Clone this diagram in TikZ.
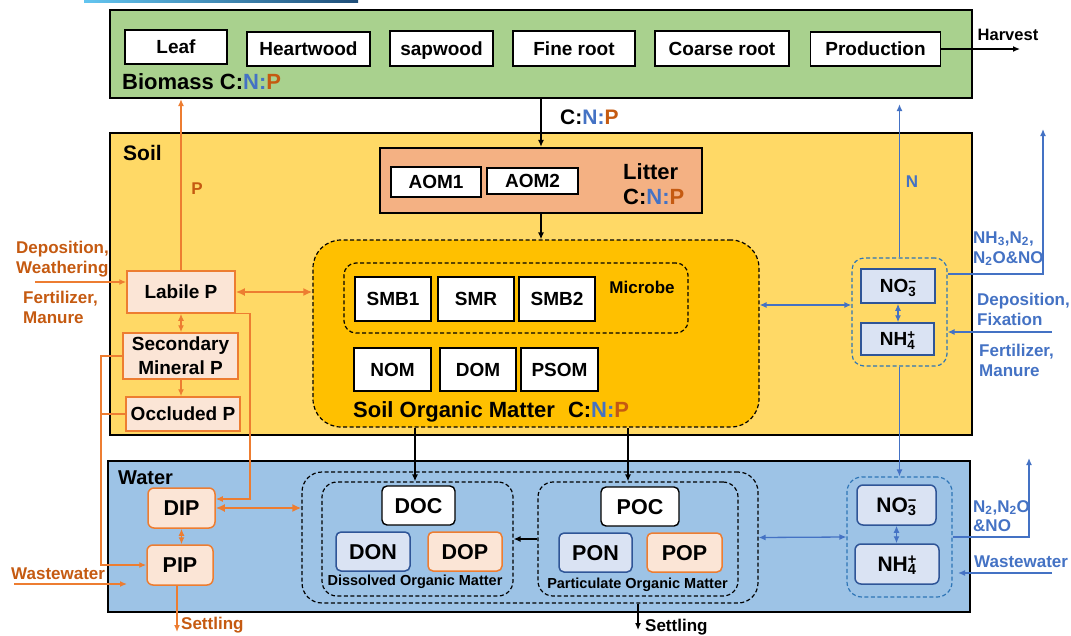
\documentclass[tikz,border=0pt]{standalone}
\usepackage{fontspec}
\setmainfont{Liberation Sans}
\usetikzlibrary{arrows.meta,calc}
\definecolor{bioG}{HTML}{A9D18E}
\definecolor{soilY}{HTML}{FFD966}
\definecolor{somO}{HTML}{FFC000}
\definecolor{litS}{HTML}{F4B183}
\definecolor{watB}{HTML}{9DC3E6}
\definecolor{pinkF}{HTML}{FBE5D6}
\definecolor{orL}{HTML}{ED7D31}
\definecolor{orT}{HTML}{C55A11}
\definecolor{blT}{HTML}{4472C4}
\definecolor{blF}{HTML}{DAE3F3}
\definecolor{blD}{HTML}{2F5597}
\definecolor{blM}{HTML}{2E75B6}
\definecolor{lnA}{HTML}{63C5F0}
\definecolor{lnB}{HTML}{1F4E79}
\newcommand{\fsz}[1]{\fontsize{#1}{#1}\selectfont\bfseries}
\newcommand{\CNP}{C:\textcolor{blT}{N:}\textcolor{orT}{P}}
\newcommand{\ionss}[2]{\rlap{\textsuperscript{#2}}\textsubscript{#1}}
\begin{document}
\begin{tikzpicture}[x=1pt,y=-1pt,
  big/.style={draw=black,line width=2.2pt,inner sep=0pt},
  T/.style={inner sep=0pt,font=\fsz{#1},text height={0.72*#1pt},text depth=0pt},
  wbox/.style={draw=black,fill=white,line width=1.4pt,T=19},
  pbox/.style={draw=orL,fill=pinkF,line width=1.5pt,T=19},
  nbox/.style={draw=blD,fill=blF,line width=1.5pt,T=19},
  dbox/.style={draw=black,dash pattern=on 4pt off 2.5pt,line width=1.2pt,inner sep=0pt},
  ndbox/.style={draw=blM,dash pattern=on 4pt off 2.5pt,line width=1.2pt,inner sep=0pt},
  arr/.style={-{Latex[length=7pt,width=6pt]},line width=1.3pt},
  darr/.style={{Latex[length=7pt,width=6pt]}-{Latex[length=7pt,width=6pt]},line width=1.3pt},
  tarr/.style={{Latex[length=9pt,width=8pt]}-{Latex[length=9pt,width=8pt]},line width=2.3pt},
]
\useasboundingbox (0,0) rectangle (1071,635);
\shade[left color=lnA,right color=lnB] (84,0) rectangle (358,2.5);

% main compartments
\node[big,fill=bioG,minimum width=862,minimum height=88] (bio) at (541,54) {};
\node[big,fill=soilY,minimum width=862,minimum height=302] (soil) at (541,284) {};
\node[big,fill=watB,minimum width=862,minimum height=151] (water) at (539,536.5) {};

% biomass
\node[wbox,minimum width=102,minimum height=34] (leaf) at (176,47) {Leaf};
\node[wbox,minimum width=123,minimum height=34] (heart) at (308.5,49) {Heartwood};
\node[wbox,minimum width=103,minimum height=35] (sap) at (441.5,48.5) {sapwood};
\node[wbox,minimum width=122,minimum height=35] (fine) at (574,48.5) {Fine root};
\node[wbox,minimum width=134,minimum height=35] (coarse) at (722,48.5) {Coarse root};
\node[wbox,minimum width=130,minimum height=34] (prod) at (875.5,49) {Production};
\node[T=22,anchor=west] (biolbl) at (122,82) {Biomass \CNP};
\coordinate (harv) at (1020,49);
\node[T=16.5] (harvlbl) at (1008,35) {Harvest};
\node[T=21,anchor=west] (cnp1) at (560,117) {\CNP};

% soil
\node[T=21,anchor=west] (soillbl) at (123,153) {Soil};
\node[big,fill=litS,minimum width=322,minimum height=65] (litter) at (541,180.5) {};
\node[wbox,minimum width=90,minimum height=30] (aom1) at (436,182) {AOM1};
\node[wbox,minimum width=91,minimum height=26] (aom2) at (532.5,181) {AOM2};
\node[T=22,anchor=west] (litlbl) at (623,172) {Litter};
\node[T=22,anchor=west] (litcnp) at (623,197) {\CNP};

\node[dbox,fill=somO,rounded corners=28,minimum width=446,minimum height=187] (som) at (536,333.5) {};
\node[dbox,rounded corners=12,minimum width=344,minimum height=70] (mic) at (516,298) {};
\node[wbox,minimum width=76,minimum height=44] (smb1) at (393,299) {SMB1};
\node[wbox,minimum width=76,minimum height=44] (smr) at (476,299) {SMR};
\node[wbox,minimum width=76,minimum height=44] (smb2) at (557,299) {SMB2};
\node[T=17] (miclbl) at (642,287) {Microbe};
\node[wbox,minimum width=77,minimum height=43] (nom) at (392.5,369.5) {NOM};
\node[wbox,minimum width=76,minimum height=43] (dom) at (478,369.5) {DOM};
\node[wbox,minimum width=77,minimum height=43] (psom) at (559.5,369.5) {PSOM};
\node[T=22,anchor=west] (somlbl) at (353,410) {Soil Organic Matter\hspace{7pt} \CNP};

% phosphorus pools
\node[pbox,minimum width=108,minimum height=42] (labile) at (181,292) {Labile P};
\node[draw=orL,fill=pinkF,line width=1.5pt,inner sep=0pt,minimum width=115,minimum height=46,align=center,font=\fontsize{19}{24}\selectfont\bfseries] (second) at (180.5,356) {Secondary\\Mineral P};
\node[pbox,minimum width=114,minimum height=34] (occl) at (183,414) {Occluded P};
\node[T=17,anchor=west,text=orT] (dep1) at (16,247) {Deposition,};
\node[T=17,anchor=west,text=orT] (dep2) at (16,267) {Weathering};
\node[T=17,anchor=west,text=orT] (fer1) at (23,297) {Fertilizer,};
\node[T=17,anchor=west,text=orT] (fer2) at (23,317) {Manure};
\node[T=17,text=orT] (plbl) at (197,188) {P};

% nitrogen (soil)
\node[ndbox,rounded corners=12,minimum width=95,minimum height=108] (nsoil) at (899.5,312) {};
\node[nbox,minimum width=74,minimum height=34] (no3s) at (898,286) {NO\ionss{3}{−}};
\node[nbox,minimum width=73,minimum height=32] (nh4s) at (897.5,339) {NH\ionss{4}{+}};
\node[T=17,text=blT] (nlbl) at (912,181) {N};
\node[T=17,anchor=west,text=blT] (nh3a) at (973,237) {NH\textsubscript{3},N\textsubscript{2},};
\node[T=17,anchor=west,text=blT] (nh3b) at (973,257) {N\textsubscript{2}O\&NO};
\node[T=17,anchor=west,text=blT] (depf1) at (977,299) {Deposition,};
\node[T=17,anchor=west,text=blT] (depf2) at (977,319) {Fixation};
\node[T=17,anchor=west,text=blT] (ferb1) at (979,350) {Fertilizer,};
\node[T=17,anchor=west,text=blT] (ferb2) at (979,370) {Manure};

% water
\node[T=20,anchor=west] (watlbl) at (118,477) {Water};
\node[pbox,T=21.5,rounded corners=6,minimum width=67,minimum height=40] (dip) at (181.5,508) {DIP};
\node[pbox,T=21.5,rounded corners=6,minimum width=66,minimum height=40] (pip) at (180,565) {PIP};
\node[dbox,rounded corners=20,minimum width=456,minimum height=131] (outer) at (530,537.5) {};
\node[dbox,rounded corners=15,minimum width=191,minimum height=114] (dombox) at (417.5,539) {};
\node[dbox,rounded corners=15,minimum width=200,minimum height=114] (pombox) at (638,539) {};
\node[wbox,T=21.5,rounded corners=5,minimum width=73,minimum height=39] (doc) at (418.5,505.5) {DOC};
\node[nbox,T=21.5,rounded corners=5,minimum width=74,minimum height=39] (don) at (373,551.5) {DON};
\node[pbox,T=21.5,rounded corners=5,minimum width=74,minimum height=39] (dop) at (465,551.5) {DOP};
\node[T=14.5] (domlbl) at (415,580) {Dissolved Organic Matter};
\node[wbox,T=21.5,rounded corners=5,minimum width=78,minimum height=39] (poc) at (640,506.5) {POC};
\node[nbox,T=21.5,rounded corners=5,minimum width=73,minimum height=39] (pon) at (595.5,552.5) {PON};
\node[pbox,T=21.5,rounded corners=5,minimum width=75,minimum height=39] (pop) at (684.5,552.5) {POP};
\node[T=14.5] (pomlbl) at (637.5,583) {Particulate Organic Matter};

\node[ndbox,rounded corners=15,minimum width=105,minimum height=120] (nwat) at (899.5,537) {};
\node[nbox,T=21,rounded corners=6,minimum width=79,minimum height=40] (no3w) at (896.5,505) {NO\ionss{3}{−}};
\node[nbox,T=21,rounded corners=6,minimum width=84,minimum height=40] (nh4w) at (897,564) {NH\ionss{4}{+}};
\node[T=17,anchor=west,text=blT] (n2a) at (973,506) {N\textsubscript{2},N\textsubscript{2}O};
\node[T=17,anchor=west,text=blT] (n2b) at (973,525) {\&NO};
\node[T=17,anchor=west,text=blT] (wwb) at (974,561) {Wastewater};
\node[T=17,anchor=west,text=orT] (wwo) at (11,573) {Wastewater};
\node[T=17,anchor=west,text=orT] (setlo) at (181,623) {Settling};
\node[T=17,anchor=west] (setlb) at (645,625) {Settling};

% connectors: carbon
\draw[arr] (prod.east) -- (harv);
\draw[arr] (bio.south) -- (litter.north);
\draw[arr] (litter.south) -- (litter.south |- som.north);
\coordinate (c1) at (415,0);
\coordinate (c2) at (628,0);
\draw[arr] (c1 |- som.south) -- (c1 |- dombox.north);
\draw[arr] (c2 |- som.south) -- (c2 |- pombox.north);
\draw[arr] (pombox.west) -- (dombox.east);
\coordinate (sb) at (638,630);
\draw[arr] (sb |- outer.south) -- (sb);

% connectors: phosphorus
\draw[arr,orL] (labile.north) -- (labile.north |- bio.south);
\coordinate (depw) at (35,282);
\draw[arr,orL] (depw) -- (depw -| labile.west);
\draw[tarr,orL] (labile.east) -- (labile.east -| som.west);
\draw[darr,orL] (labile.south) -- (labile.south |- second.north);
\draw[arr,orL] (labile.south |- second.south) -- (labile.south |- occl.north);
\coordinate (lx) at (101,0);
\draw[arr,orL] (second.west) -- (second.west -| lx) -- (lx |- pip.west) -- (pip.west);
\draw[orL,line width=1.3pt] (occl.west) -- (occl.west -| lx);
\coordinate (rx) at (250,499);
\draw[arr,orL] (labile.south east) -- (labile.south east -| rx) -- (rx) -- (rx -| dip.east);
\draw[darr,orL] (dip.south) -- (dip.south |- pip.north);
\draw[tarr,orL] (dip.east) -- (dip.east -| outer.west);
\coordinate (wwo1) at (14,584);
\coordinate (wwo2) at (127,584);
\draw[arr,orL] (wwo1) -- (wwo2);
\coordinate (so) at (177,632);
\draw[arr,orL] (pip.south -| so) -- (so);

% connectors: nitrogen
\coordinate (ny) at (0,305);
\draw[darr,blT] (som.east |- ny) -- (nsoil.west |- ny);
\draw[darr,blT] (no3s.south) -- (no3s.south |- nh4s.north);
\draw[arr,blT] (nsoil.north) -- ($(nsoil.north |- bio.south)+(0,5)$);
\draw[arr,blT] (nsoil.south) -- (nwat.north);
\coordinate (g1) at (1043,129);
\coordinate (gy1) at (0,274);
\draw[arr,blT] (nsoil.east |- gy1) -- (g1 |- gy1) -- (g1);
\coordinate (df) at (1052,332);
\draw[arr,blT] (df) -- (df -| nsoil.east);
\draw[darr,blT] (outer.east) -- (nwat.west);
\draw[darr,blT] (no3w.south) -- (no3w.south |- nh4w.north);
\coordinate (g2) at (1029,458);
\draw[arr,blT] (nwat.east) -- (nwat.east -| g2) -- (g2);
\coordinate (ww1) at (1052,573);
\coordinate (ww2) at (958,573);
\draw[arr,blT] (ww1) -- (ww2);
\end{tikzpicture}
\end{document}
